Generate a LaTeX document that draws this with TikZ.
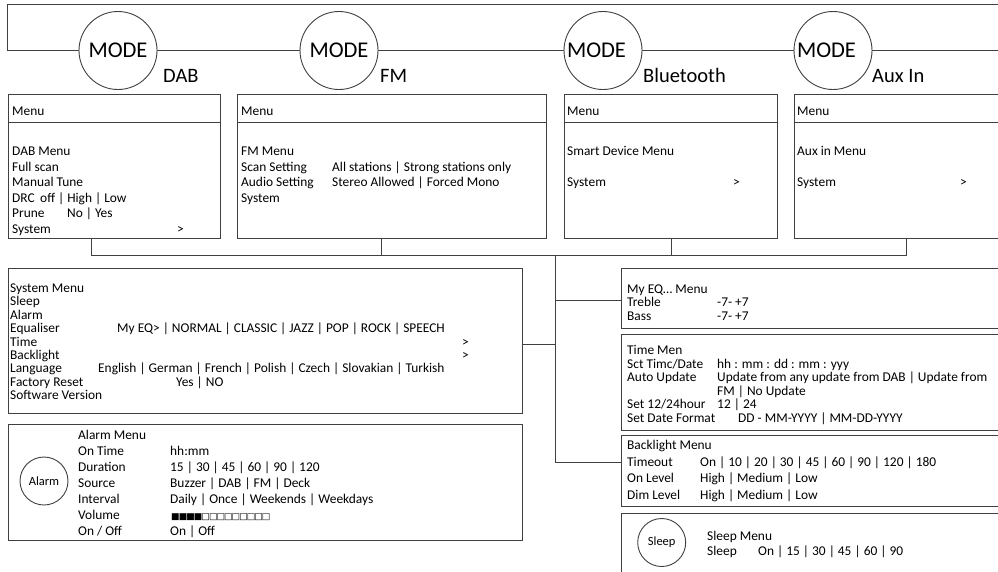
\documentclass[tikz,border=0pt]{standalone}
\usepackage{fontspec}
\setmainfont{Carlito}
\newfontfamily\symfont[LetterSpace=-10.5]{DejaVu Sans}
\usetikzlibrary{positioning}

\definecolor{rdLine}{HTML}{404040}
\definecolor{rdText}{HTML}{000000}

\tikzset{
  wire/.style={draw=rdLine, line width=0.9pt},
  modeknob/.style={circle, draw=rdLine, line width=0.9pt, fill=white, minimum size=78pt, inner sep=0pt, font=\fontsize{22.5}{26}\selectfont},
  modename/.style={anchor=base west, inner sep=0pt, text=rdText, font=\fontsize{20.5}{24}\selectfont},
  menubox/.style={draw=rdLine, line width=0.9pt, anchor=north west, inner sep=0pt},
  txt/.style={anchor=base west, inner sep=0pt, text=rdText, font=\fontsize{13.4}{15}\selectfont},
  small/.style={txt},
  roundbtn/.style={circle, draw=rdLine, line width=0.9pt, minimum size=48pt, inner sep=0pt, font=\fontsize{12.5}{14}\selectfont},
}

\begin{document}
\begin{tikzpicture}[x=1pt, y=-1pt]
  \useasboundingbox[fill=white] (0,0) rectangle (998,571);

  % MODE ring
  \node[modeknob] (dabMode) at (118,50.5) {MODE};
  \node[modeknob] (fmMode) at (339,50.5) {MODE};
  \node[modeknob] (btMode) at (603,50.5) {\hspace*{-13pt}MODE};
  \node[modeknob] (auxMode) at (833,50.5) {\hspace*{-13pt}MODE};
  \coordinate (loopIn) at (1010,4.5);
  \coordinate (loopCorner) at (7,4.5);
  \coordinate (loopTurn) at (7,50.5);
  \coordinate (loopOut) at (1010,50.5);
  \draw[wire] (loopIn) -- (loopCorner) -- (loopTurn) -- (dabMode) -- (fmMode) -- (btMode) -- (auxMode) -- (loopOut);

  \node[modename] (dabName) at (163,82) {DAB};
  \node[modename] (fmName) at (380,82) {FM};
  \node[modename] (btName) at (643,82) {Bluetooth};
  \node[modename] (auxName) at (872,82) {Aux In};

  % source menus
  \node[menubox, minimum width=212pt, minimum height=144pt] (dabBox) at (8,94) {};
  \node[menubox, minimum width=309pt, minimum height=144pt] (fmBox) at (237,94) {};
  \node[menubox, minimum width=213pt, minimum height=144pt] (btBox) at (564,94) {};
  \node[menubox, minimum width=230pt, minimum height=144pt] (auxBox) at (794,94) {};
  \draw[wire] ([yshift=-28pt]dabBox.north west) -- ([yshift=-28pt]dabBox.north east);
  \draw[wire] ([yshift=-28pt]fmBox.north west) -- ([yshift=-28pt]fmBox.north east);
  \draw[wire] ([yshift=-28pt]btBox.north west) -- ([yshift=-28pt]btBox.north east);
  \draw[wire] ([yshift=-28pt]auxBox.north west) -- ([yshift=-28pt]auxBox.north east);

  % DAB
  \node[txt] (dabHead) at (12,115.5) {Menu};
  \node[txt] (dabL1) at (12,155.5) {DAB Menu};
  \node[txt] (dabL2) at (12,171.1) {Full scan};
  \node[txt] (dabL3) at (12,186.7) {Manual Tune};
  \node[txt] (dabL4) at (12,202.3) {DRC};
  \node[txt] (dabV4) at (40,202.3) {off | High | Low};
  \node[txt] (dabL5) at (12,217.9) {Prune};
  \node[txt] (dabV5) at (67,217.9) {No | Yes};
  \node[txt] (dabL6) at (12,233.5) {System};
  \node[txt] (dabGo) at (177,233.5) {>};

  % FM
  \node[txt] (fmHead) at (241,115.5) {Menu};
  \node[txt] (fmL1) at (241,155.5) {FM Menu};
  \node[txt] (fmL2) at (241,171.1) {Scan Setting};
  \node[txt] (fmV2) at (332,171.1) {All stations | Strong stations only};
  \node[txt] (fmL3) at (241,186.7) {Audio Setting};
  \node[txt] (fmV3) at (332,186.7) {Stereo Allowed | Forced Mono};
  \node[txt] (fmL4) at (241,202.3) {System};

  % Bluetooth
  \node[txt] (btHead) at (567,115.5) {Menu};
  \node[txt] (btL1) at (567,155.5) {Smart Device Menu};
  \node[txt] (btL2) at (567,186.5) {System};
  \node[txt] (btGo) at (733,186.5) {>};

  % Aux In
  \node[txt] (auxHead) at (797,115.5) {Menu};
  \node[txt] (auxL1) at (797,155.5) {Aux in Menu};
  \node[txt] (auxL2) at (797,186.5) {System};
  \node[txt] (auxGo) at (960,186.5) {>};

  % system menu
  \node[menubox, minimum width=514pt, minimum height=145pt] (sysBox) at (8,268) {};
  \node[small] (sysL1) at (10,292.5) {System Menu};
  \node[small] (sysL2) at (10,305.9) {Sleep};
  \node[small] (sysL3) at (10,319.3) {Alarm};
  \node[small] (sysL4) at (10,332.7) {Equaliser};
  \node[small] (sysV4) at (117,332.7) {My EQ> | NORMAL | CLASSIC | JAZZ | POP | ROCK | SPEECH};
  \node[small] (sysL5) at (10,346.1) {Time};
  \node[small] (sysV5) at (462,346.1) {>};
  \node[small] (sysL6) at (10,359.5) {Backlight};
  \node[small] (sysV6) at (462,359.5) {>};
  \node[small] (sysL7) at (10,372.9) {Language};
  \node[small] (sysV7) at (98,372.9) {English | German | French | Polish | Czech | Slovakian | Turkish};
  \node[small] (sysL8) at (10,386.3) {Factory Reset};
  \node[small] (sysV8) at (176,386.3) {Yes | NO};
  \node[small] (sysL9) at (10,399.7) {Software Version};

  % alarm menu
  \node[menubox, minimum width=514pt, minimum height=116pt] (alarmBox) at (8,424) {};
  \node[roundbtn] (alarmBtn) at (44,481) {Alarm};
  \node[txt] (alL1) at (78,439.5) {Alarm Menu};
  \node[txt] (alL2) at (78,455.5) {On Time};
  \node[txt] (alV2) at (170,455.5) {hh:mm};
  \node[txt] (alL3) at (78,471.5) {Duration};
  \node[txt] (alV3) at (170,471.5) {15 | 30 | 45 | 60 | 90 | 120};
  \node[txt] (alL4) at (78,487.5) {Source};
  \node[txt] (alV4) at (170,487.5) {Buzzer | DAB | FM | Deck};
  \node[txt] (alL5) at (78,503.5) {Interval};
  \node[txt] (alV5) at (170,503.5) {Daily | Once | Weekends | Weekdays};
  \node[txt] (alL6) at (78,519.5) {Volume};
  \node[txt, font=\symfont\fontsize{9}{9}\selectfont] (alV6) at (171,519) {■■■■□□□□□□□□□};
  \node[txt] (alL7) at (78,535.5) {On / Off};
  \node[txt] (alV7) at (170,535.5) {On | Off};

  % sub menus
  \node[menubox, minimum width=400pt, minimum height=60pt] (eqBox) at (620.7,268) {};
  \node[small] (eqL1) at (627,293.5) {My EQ… Menu};
  \node[small] (eqL2) at (627,306.8) {Treble};
  \node[small] (eqV2) at (717,306.8) {-7- +7};
  \node[small] (eqL3) at (627,320.1) {Bass};
  \node[small] (eqV3) at (717,320.1) {-7- +7};

  \node[menubox, minimum width=400pt, minimum height=96pt] (timeBox) at (620.7,334) {};
  \node[small] (tmL1) at (627,354.5) {Time Men};
  \node[small] (tmL2) at (627,368.1) {Sct Timc/Date};
  \node[small] (tmV2) at (717,368.1) {hh : mm : dd : mm : yyy};
  \node[small] (tmL3) at (627,381.7) {Auto Update};
  \node[small] (tmV3) at (717,381.7) {Update from any update from DAB | Update from};
  \node[small] (tmV3b) at (717,395.3) {FM | No Update};
  \node[small] (tmL4) at (627,408.9) {Set 12/24hour};
  \node[small] (tmV4) at (717,408.9) {12 | 24};
  \node[small] (tmL5) at (627,422.5) {Set Date Format};
  \node[small] (tmV5) at (738,422.5) {DD - MM-YYYY | MM-DD-YYYY};

  \node[menubox, minimum width=400pt, minimum height=71pt] (blBox) at (620.7,435) {};
  \node[txt] (blL1) at (627,449.5) {Backlight Menu};
  \node[txt] (blL2) at (627,466) {Timeout};
  \node[txt] (blV2) at (700,466) {On | 10 | 20 | 30 | 45 | 60 | 90 | 120 | 180};
  \node[txt] (blL3) at (627,482.5) {On Level};
  \node[txt] (blV3) at (700,482.5) {High | Medium | Low};
  \node[txt] (blL4) at (627,499) {Dim Level};
  \node[txt] (blV4) at (700,499) {High | Medium | Low};

  \node[menubox, minimum width=400pt, minimum height=80pt] (sleepBox) at (620.7,513) {};
  \node[roundbtn] (sleepBtn) at (661.7,542.5) {Sleep};
  \node[txt] (slL1) at (707,540.5) {Sleep Menu};
  \node[txt] (slL2) at (707,555.5) {Sleep};
  \node[txt] (slV2) at (758,555.5) {On | 15 | 30 | 45 | 60 | 90};

  % tree
  \coordinate (tapDab) at (91,255);
  \coordinate (tapFm) at (381,255);
  \coordinate (tapBt) at (671,255);
  \coordinate (tapAux) at (906,255);
  \coordinate (trunkTop) at (555.7,255);
  \coordinate (tapEq) at (555.7,300.7);
  \coordinate (tapSys) at (555.7,344);
  \coordinate (trunkEnd) at (555.7,462.7);
  \draw[wire] (dabBox.south -| tapDab) -- (tapDab) -- (tapAux) -- (auxBox.south -| tapAux);
  \draw[wire] (fmBox.south -| tapFm) -- (tapFm);
  \draw[wire] (btBox.south -| tapBt) -- (tapBt);
  \draw[wire] (trunkTop) -- (trunkEnd) -- (blBox.west |- trunkEnd);
  \draw[wire] (tapEq) -- (eqBox.west |- tapEq);
  \draw[wire] (tapSys) -- (sysBox.east |- tapSys);
\end{tikzpicture}
\end{document}
